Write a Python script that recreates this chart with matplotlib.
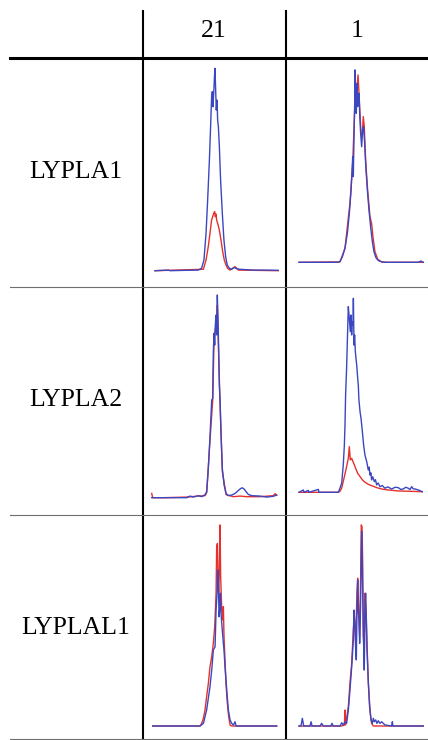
import matplotlib
matplotlib.use("Agg")
import matplotlib.pyplot as plt

plt.rcParams['font.family'] = ['Liberation Serif', 'DejaVu Serif']

# ---------- data (retention axis 0-100, intensity % of panel max) ----------
col_labels = ["21", "1"]
row_labels = ["LYPLA1", "LYPLA2", "LYPLAL1"]

# LYPLA1 / 21
lypla1_21_blue_x = [0, 10.8, 12.2, 25.7, 35.1, 37.8, 39.7, 41.4, 42.7, 44.1, 45.1, 45.9, 46.5, 47.0, 47.6,
                    48.1, 48.6, 49.2, 49.7, 50.3, 50.8, 51.4, 52.2, 53.2, 54.6, 55.9, 57.3, 58.6, 60.3, 62.2,
                    64.3, 66.2, 68.9, 79.7, 86.5, 100]
lypla1_21_blue_y = [0, 0.3, 0, 0.2, 0.3, 1.2, 5.3, 18.5, 34.9, 54.4, 71.2, 85.9, 88.5, 81.0, 87.6,
                    94.2, 100, 89.3, 79.4, 84.3, 74.5, 71.2, 61.3, 44.8, 28.3, 15.2, 6.9, 2.8, 1.2, 0.7,
                    1.6, 1.0, 0.7, 0.3, 0.3, 0.2]
lypla1_21_red_x = [0, 39.2, 41.4, 43.2, 44.6, 45.9, 46.8, 47.6, 48.4, 48.9, 49.5, 50.0, 50.8, 51.6, 52.4,
                   53.5, 54.9, 56.2, 57.6, 58.9, 60.8, 64.9, 66.2, 67.6, 100]
lypla1_21_red_y = [0, 0.7, 5.3, 11.9, 18.5, 25.0, 26.7, 28.3, 29.2, 26.7, 28.0, 25.0, 23.4, 21.7, 19.3,
                   15.2, 9.4, 5.3, 2.8, 1.2, 0.3, 2.0, 1.2, 0.3, 0]

# LYPLA1 / 1
lypla1_1_blue_x = [0, 15.5, 31.6, 33.0, 34.9, 37.0, 38.9, 40.5, 41.8, 42.6, 43.2, 43.7, 44.2, 44.8, 45.0,
                   45.6, 46.1, 46.6, 47.2, 47.7, 48.3, 48.8, 49.6, 50.4, 51.2, 52.0, 52.8, 53.9, 55.0, 56.3,
                   57.6, 59.0, 60.3, 61.9, 63.8, 66.5, 70.5, 96.0, 98.1, 99.2, 100]
lypla1_1_blue_y = [0, 0, 0, 0.5, 2.9, 7.3, 15.0, 25.4, 36.6, 46.1, 54.7, 44.4, 63.4, 82.4, 99.7,
                   85.8, 77.2, 92.7, 80.7, 84.1, 87.6, 77.2, 66.8, 59.9, 68.6, 70.3, 61.7, 47.8, 37.5, 27.1,
                   18.5, 10.7, 5.5, 2.4, 0.9, 0.2, 0, 0, 0.7, 0.2, 0]
lypla1_1_red_x = [0, 33.0, 37.0, 41.0, 43.2, 44.8, 45.3, 45.8, 46.6, 47.5, 48.0, 48.8, 49.9, 50.9, 51.7,
                  52.5, 53.6, 55.2, 57.1, 58.4, 59.5, 61.1, 63.3, 66.5, 69.2, 100]
lypla1_1_red_y = [0, 0.2, 7.3, 30.6, 51.3, 78.9, 94.5, 84.1, 89.3, 97.1, 91.0, 80.7, 66.8, 65.1, 75.5,
                  70.3, 53.0, 37.5, 23.7, 20.2, 13.3, 5.5, 1.6, 0.2, 0, 0]

# LYPLA2 / 21
lypla2_21_blue_x = [0, 6.7, 17.3, 28.0, 30.7, 33.3, 37.3, 40.0, 42.7, 44.0, 45.3, 46.7, 48.0, 48.8, 49.3,
                    49.9, 50.4, 50.9, 51.5, 52.0, 52.5, 53.1, 53.6, 54.1, 54.7, 55.5, 56.5, 57.9, 59.5, 61.3,
                    64.0, 66.7, 68.8, 70.7, 72.3, 73.9, 75.5, 77.3, 80.0, 86.7, 92.0, 97.3, 100]
lypla2_21_blue_y = [0, 0, 0, 0, 0.8, 0.3, 1.0, 0.5, 1.5, 3.0, 14.5, 30.9, 48.2, 49.0, 72.0,
                    81.1, 75.3, 85.2, 90.1, 80.3, 100, 86.8, 72.0, 55.6, 48.2, 30.9, 14.5, 6.3, 2.1, 1.0,
                    1.3, 2.1, 3.3, 4.3, 4.9, 4.3, 3.0, 1.6, 1.0, 0.8, 0.3, 0.7, 1.3]
lypla2_21_red_x = [0, 0.8, 9.3, 28.0, 37.3, 42.7, 44.0, 46.7, 48.8, 49.9, 50.9, 52.0, 52.5, 53.6, 54.7,
                   56.5, 59.5, 65.3, 70.7, 76.0, 86.7, 97.3, 98.7, 100]
lypla2_21_red_y = [2.1, 0, 0, 0.3, 0.8, 1.0, 2.5, 29.0, 48.0, 78.0, 83.0, 88.0, 95.0, 70.0, 46.0,
                   13.0, 1.5, 0.5, 0.8, 0.5, 0.5, 1.0, 2.0, 1.3]

# LYPLA2 / 1
lypla2_1_blue_x = [0, 3.5, 4.1, 7.6, 8.1, 15.7, 16.2, 26.5, 31.9, 33.2, 34.6, 35.9, 36.8, 37.3, 37.8,
                   38.6, 39.5, 40.0, 40.8, 41.6, 42.2, 42.7, 43.2, 43.8, 44.1, 44.6, 45.1, 45.7, 46.2, 46.8,
                   47.6, 48.1, 48.6, 49.5, 50.3, 51.4, 52.4, 53.5, 54.9, 56.2, 56.9, 57.6, 58.3, 58.9, 59.8,
                   61.1, 62.0, 63.0, 64.2, 65.7, 67.5, 69.7, 72.0, 75.1, 78.0, 80.5, 82.5, 84.6, 86.5, 88.6,
                   90.0, 91.4, 92.6, 94.1, 96.8, 100]
lypla2_1_blue_y = [0, 1.2, 0, 1.0, 0, 1.5, 0, 0, 0, 2.1, 4.6, 14.1, 24.4, 34.7, 50.2,
                   63.9, 84.5, 95.7, 89.7, 82.8, 91.4, 81.1, 88.0, 86.3, 100, 75.9, 81.1, 72.5, 69.1, 65.6,
                   58.8, 55.3, 47.6, 41.6, 38.1, 31.3, 24.4, 19.2, 15.8, 11.5, 13.0, 8.9, 10.0, 6.4, 8.0,
                   5.5, 6.5, 3.8, 4.8, 2.9, 3.5, 2.1, 2.8, 1.7, 2.6, 2.4, 1.5, 1.7, 2.6, 2.1,
                   1.4, 2.9, 1.8, 1.7, 1.2, 0.3]
lypla2_1_red_x = [0, 31.9, 33.2, 34.6, 36.8, 38.6, 40.0, 40.8, 41.6, 42.7, 43.8, 44.9, 45.9, 47.6, 49.5,
                  51.4, 53.5, 56.2, 59.5, 63.0, 67.0, 72.4, 80.5, 91.4, 100]
lypla2_1_red_y = [0, 0, 0.5, 2.1, 8.1, 13.2, 17.5, 23.5, 16.7, 17.5, 15.8, 14.1, 12.4, 9.8, 8.1,
                  6.4, 5.2, 4.1, 3.3, 2.4, 1.7, 1.2, 0.7, 0.5, 0.3]

# LYPLAL1 / 21
lyplal1_21_blue_x = [0, 38.2, 40.9, 43.5, 46.2, 47.6, 48.9, 50.3, 51.1, 51.9, 52.4, 53.0, 53.5, 54.0, 54.6,
                     55.1, 55.9, 57.0, 57.5, 58.3, 59.7, 61.0, 62.4, 63.7, 65.1, 66.4, 67.2, 100]
lyplal1_21_blue_y = [0, 0, 1.3, 7.9, 19.4, 27.6, 37.5, 39.1, 57.2, 65.5, 77.0, 70.4, 53.9, 57.2, 65.5,
                     55.6, 49.0, 40.8, 37.5, 29.3, 17.8, 7.9, 3.0, 1.3, 0.5, 2.1, 0, 0]
lyplal1_21_red_x = [0, 38.2, 39.5, 40.9, 42.2, 43.5, 44.9, 46.2, 47.6, 48.9, 50.0, 51.1, 51.6, 52.2, 52.7,
                    53.2, 53.8, 54.3, 54.8, 55.6, 56.5, 57.0, 57.5, 58.3, 59.1, 60.2, 61.3, 62.4, 63.7, 100]
lyplal1_21_red_y = [0, 0, 1.3, 3.8, 7.9, 14.5, 21.1, 29.3, 34.2, 40.8, 49.0, 65.5, 88.5, 90.1, 73.7,
                    65.5, 77.0, 99.2, 73.7, 58.9, 52.3, 58.9, 44.1, 32.6, 21.1, 11.2, 4.6, 0.5, 0, 0]

# LYPLAL1 / 1
lyplal1_1_blue_x = [0, 1.6, 2.7, 3.8, 8.8, 9.7, 10.5, 16.9, 18.2, 19.6, 25.7, 26.5, 27.6, 33.0, 34.3,
                    35.7, 37.0, 38.3, 39.7, 41.0, 42.4, 43.7, 44.2, 45.0, 45.6, 46.1, 46.6, 47.2, 47.7, 48.3,
                    48.8, 49.3, 49.9, 50.4, 50.9, 51.5, 52.0, 52.5, 53.1, 53.6, 54.2, 54.7, 55.8, 56.8, 57.9,
                    59.0, 59.8, 60.6, 61.7, 62.7, 63.8, 65.1, 66.5, 69.2, 74.5, 75.1, 75.6, 79.9, 100]
lyplal1_1_blue_y = [0, 0, 3.8, 0, 0, 2.1, 0, 0, 1.3, 0, 0, 1.3, 0, 0, 1.6,
                    0.5, 2.0, 1.3, 7.9, 17.8, 29.3, 42.4, 57.2, 50.7, 37.5, 32.6, 53.9, 72.0, 57.2, 52.3,
                    40.8, 52.3, 73.7, 96.0, 81.9, 57.2, 40.8, 27.6, 57.2, 65.5, 52.3, 37.5, 21.1, 9.5, 3.0,
                    1.3, 3.8, 2.1, 3.0, 1.3, 2.6, 1.3, 2.1, 0.5, 0, 2.1, 0, 0, 0]
lyplal1_1_red_x = [0, 34.3, 36.5, 37.0, 37.5, 39.7, 41.0, 42.4, 43.7, 44.5, 45.6, 46.6, 47.2, 48.0, 48.8,
                   49.6, 50.1, 50.7, 51.2, 51.7, 52.5, 53.1, 53.9, 54.7, 55.8, 57.1, 58.4, 59.8, 100]
lyplal1_1_red_y = [0, 0, 0.5, 7.9, 0.5, 9.5, 21.1, 30.9, 47.4, 53.9, 40.8, 65.5, 72.9, 57.2, 44.1,
                   73.7, 99.2, 98.4, 81.9, 44.1, 37.5, 65.5, 57.2, 40.8, 21.1, 7.9, 1.3, 0, 0]

panels = [
    [(lypla1_21_blue_x, lypla1_21_blue_y, lypla1_21_red_x, lypla1_21_red_y),
     (lypla1_1_blue_x, lypla1_1_blue_y, lypla1_1_red_x, lypla1_1_red_y)],
    [(lypla2_21_blue_x, lypla2_21_blue_y, lypla2_21_red_x, lypla2_21_red_y),
     (lypla2_1_blue_x, lypla2_1_blue_y, lypla2_1_red_x, lypla2_1_red_y)],
    [(lyplal1_21_blue_x, lyplal1_21_blue_y, lyplal1_21_red_x, lyplal1_21_red_y),
     (lyplal1_1_blue_x, lyplal1_1_blue_y, lyplal1_1_red_x, lyplal1_1_red_y)],
]

# ---------- layout (pixels, y from top) ----------
W, H = 428, 740
# plot box of each cell: left, right, baseline, top
boxes = [
    [(155, 278.3, 270.7, 68.3), (299, 423.3, 262.3, 69.3)],
    [(151.7, 276.7, 497.7, 295), (299, 422.3, 492.3, 298.3)],
    [(152.7, 276.7, 726, 523.3), (299, 423.3, 726, 523.3)],
]
BLUE = "#3b47c0"
RED = "#e5302c"

fig = plt.figure(figsize=(W / 100, H / 100), dpi=100)

# overlay for the table lines and text
ov = fig.add_axes([0, 0, 1, 1])
ov.set_xlim(0, W)
ov.set_ylim(H, 0)
ov.axis("off")

ov.plot([143, 143], [11, H], color="black", lw=1.5)
ov.plot([286, 286], [11, H], color="black", lw=1.5)
ov.plot([10, W], [58, 58], color="black", lw=2.2)
for yy in [287, 514.5, 739]:
    ov.plot([10, W], [yy, yy], color="#6e6e6e", lw=0.8)

for cx, lab in zip([213.5, 357.5], col_labels):
    ov.text(cx, 37, lab, ha="center", va="baseline", fontsize=18.5)
for by, lab in zip([178.3, 406, 633.5], row_labels):
    ov.text(75.5, by, lab, ha="center", va="baseline", fontsize=18.5)

for r in range(3):
    for c in range(2):
        xl, xr, yb, yt = boxes[r][c]
        ax = fig.add_axes([xl / W, 1 - yb / H, (xr - xl) / W, (yb - yt) / H])
        ax.set_xlim(0, 100)
        ax.set_ylim(0, 100)
        ax.axis("off")
        bx, byy, rx, ryy = panels[r][c]
        ax.plot(rx, ryy, color=RED, lw=1.0, clip_on=False)
        ax.plot(bx, byy, color=BLUE, lw=1.0, clip_on=False)

fig.savefig("out.png", dpi=100)
